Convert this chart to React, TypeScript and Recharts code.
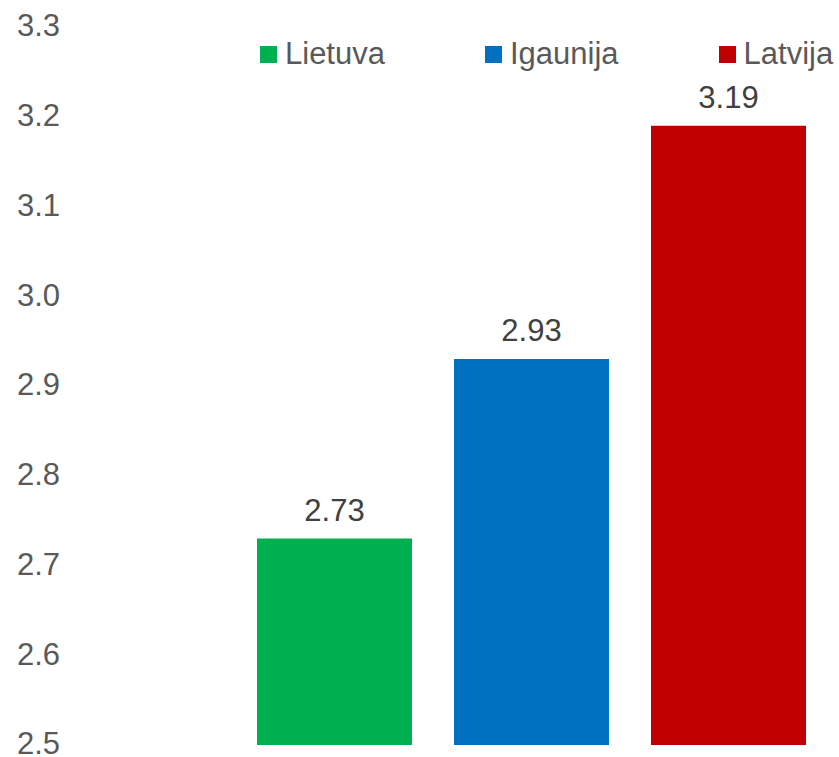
import { BarChart, Bar, XAxis, YAxis, LabelList } from "recharts";

const countries = ["Lietuva", "Igaunija", "Latvija"];
const values = [2.73, 2.93, 3.19];
const yTicks = [2.5, 2.6, 2.7, 2.8, 2.9, 3.0, 3.1, 3.2, 3.3];

const COLORS: Record<string, string> = {
  Lietuva: "#00b050",
  Igaunija: "#0070c0",
  Latvija: "#c00000",
};

const FONT = "'Liberation Sans', Arial, sans-serif";

// one row, one series per country so bars sit side by side
const data = [
  countries.reduce((row: any, c, i) => {
    row[c] = values[i];
    return row;
  }, { name: "" }),
];

const YTick = ({ y, payload }: any) => (
  <text x={60} y={y} dy="0.3em" textAnchor="end" fill="#595959" fontSize={31} fontFamily={FONT}>
    {Number(payload.value).toFixed(1)}
  </text>
);

const ChartLegend = () => (
  <div
    style={{
      position: "absolute",
      top: 37,
      left: 260,
      display: "flex",
      gap: 100,
      fontFamily: FONT,
      fontSize: 31,
      color: "#595959",
    }}
  >
    {countries.map((c) => (
      <div key={c} style={{ display: "flex", alignItems: "center" }}>
        <span style={{ width: 17, height: 17, background: COLORS[c], marginRight: 8, display: "inline-block" }} />
        <span style={{ lineHeight: "34px" }}>{c}</span>
      </div>
    ))}
  </div>
);

export default function App() {
  return (
    <div style={{ position: "absolute", left: 0, top: 0, width: 839, height: 757, background: "#fff" }}>
      <BarChart
        width={839}
        height={757}
        data={data}
        margin={{ top: 27, right: 7, bottom: 12, left: 0 }}
        barGap={42}
        barSize={155}
      >
        <XAxis dataKey="name" hide />
        <YAxis
          width={230}
          domain={[2.5, 3.3]}
          ticks={yTicks}
          axisLine={false}
          tickLine={false}
          tick={<YTick />}
          allowDataOverflow
        />
        {countries.map((c) => (
          <Bar key={c} dataKey={c} fill={COLORS[c]} isAnimationActive={false}>
            <LabelList
              dataKey={c}
              position="top"
              offset={18}
              fill="#404040"
              fontSize={31}
              fontFamily={FONT}
              formatter={(v: any) => Number(v).toFixed(2)}
            />
          </Bar>
        ))}
      </BarChart>
      <ChartLegend />
    </div>
  );
}
